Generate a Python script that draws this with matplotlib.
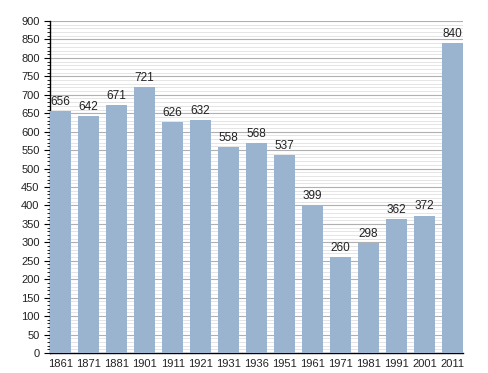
import matplotlib.pyplot as plt
from matplotlib.ticker import MultipleLocator

years = ["1861", "1871", "1881", "1901", "1911", "1921", "1931", "1936",
         "1951", "1961", "1971", "1981", "1991", "2001", "2011"]
population = [656, 642, 671, 721, 626, 632, 558, 568, 537, 399, 260, 298, 362, 372, 840]

plt.rcParams["font.family"] = ["Liberation Sans", "DejaVu Sans"]

fig = plt.figure(figsize=(4.88, 3.73), dpi=100)
ax = fig.add_axes([0.1025, 0.0536, 0.8465, 0.8901])

x = list(range(len(years)))
bars = ax.bar(x, population, width=0.76, color="#9ab3cf", zorder=3)
for xi, v in zip(x, population):
    ax.text(xi, v + 9, str(v), ha="center", va="bottom", fontsize=8.5,
            color="#222222", zorder=4)

ax.set_xlim(-0.38, len(years) - 1 + 0.38)
ax.set_ylim(0, 900)
ax.set_xticks(x)
ax.set_xticklabels(years, fontsize=8, color="#222222")
ax.yaxis.set_major_locator(MultipleLocator(50))
ax.yaxis.set_minor_locator(MultipleLocator(10))
ax.tick_params(axis="y", which="major", labelsize=8, labelcolor="#222222",
               length=4, width=0.8)
ax.tick_params(axis="y", which="minor", length=2, width=0.6)
ax.tick_params(axis="x", length=0, pad=4)

ax.grid(True, axis="y", which="major", color="#b0b0b0", linewidth=0.8, zorder=0)
ax.grid(True, axis="y", which="minor", color="#e0e0e0", linewidth=0.6, zorder=0)
ax.set_axisbelow(True)

for s in ["top", "right"]:
    ax.spines[s].set_visible(False)
ax.spines["left"].set_linewidth(1)
ax.spines["bottom"].set_linewidth(1)

fig.savefig("out.png", dpi=100)
